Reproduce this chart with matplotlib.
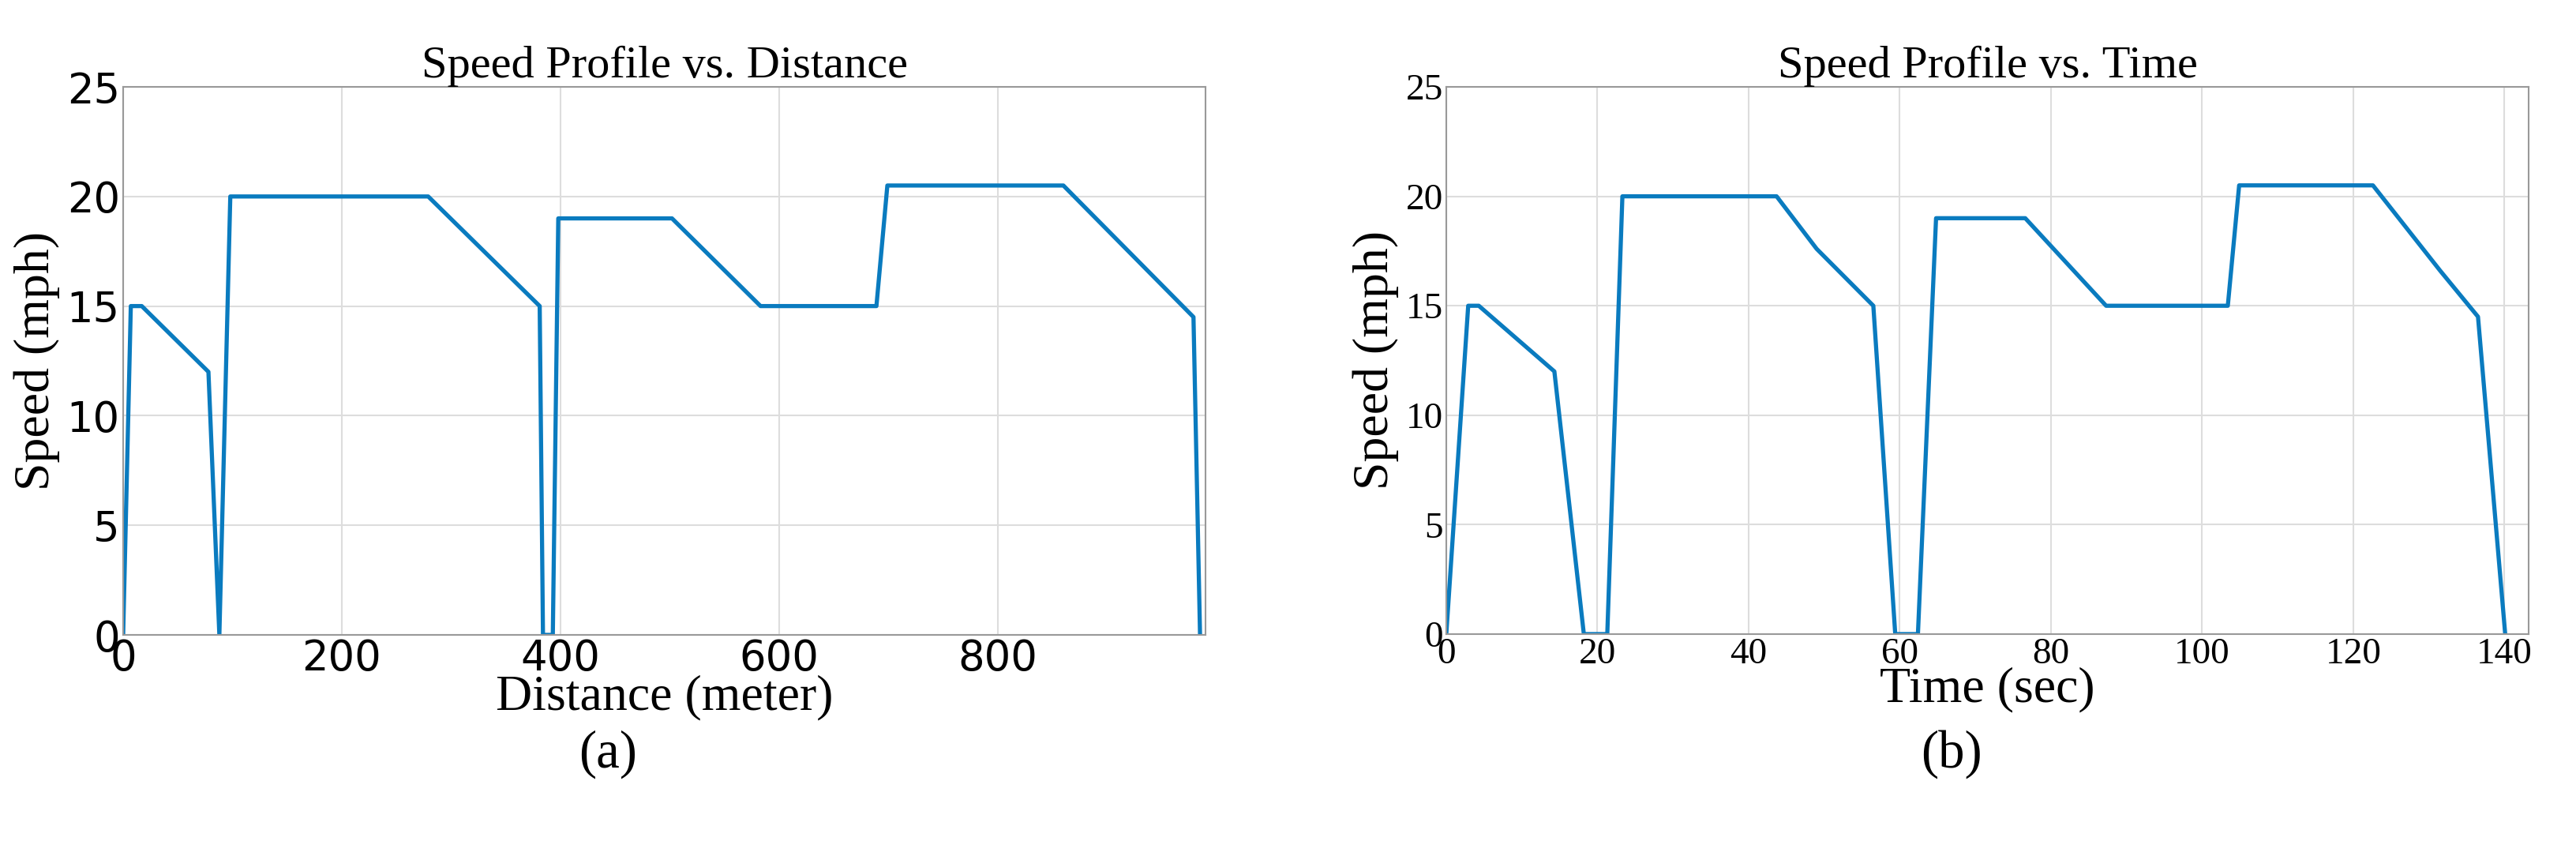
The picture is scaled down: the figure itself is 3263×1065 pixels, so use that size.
import matplotlib
matplotlib.use("Agg")
import matplotlib.pyplot as plt

dist_m = [0, 7, 17, 78, 88, 98, 279, 381, 384, 393, 398, 502, 583, 689, 699, 860, 979, 985]
dist_speed = [0, 15, 15, 12, 0, 20, 20, 15, 0, 0, 19, 19, 15, 15, 20.5, 20.5, 14.5, 0]
time_s = [0, 2.9, 4.3, 14.3, 18.2, 21.3, 23.3, 43.7, 49.0, 56.5, 59.4, 62.4, 64.8, 76.6, 87.3, 103.4, 104.9, 122.6, 131.5, 136.5, 140.1]
time_speed = [0, 15, 15, 12, 0, 0, 20, 20, 17.6, 15, 0, 0, 19, 19, 15, 15, 20.5, 20.5, 16.6, 14.5, 0]

W, H = 3263, 1065
fig = plt.figure(figsize=(W/100, H/100), dpi=100)
serif = "Liberation Serif"
color = "#0A7BBF"

def setup(ax, xlabel, title, tickfont, ticksize):
    ax.set_ylim(0, 25)
    ax.set_yticks([0, 5, 10, 15, 20, 25])
    ax.grid(True, color="#dddddd", linewidth=1.5)
    ax.set_axisbelow(True)
    for s in ax.spines.values():
        s.set_color("#999999"); s.set_linewidth(1.5)
    ax.tick_params(length=0, pad=3)
    for lab in ax.get_xticklabels() + ax.get_yticklabels():
        lab.set_fontfamily(tickfont); lab.set_fontsize(ticksize)
    ax.set_xlabel(xlabel, fontfamily=serif, fontsize=46, labelpad=-4)
    ax.set_ylabel("Speed (mph)", fontfamily=serif, fontsize=46, labelpad=6)
    ax.set_title(title, fontfamily=serif, fontsize=42, pad=4)

ax1 = fig.add_axes([156/W, 1-804/H, (1527-156)/W, (804-110)/H])
ax1.plot(dist_m, dist_speed, color=color, lw=3.8)
ax1.set_xlim(0, 990)
ax1.set_xticks([0, 200, 400, 600, 800])
setup(ax1, "Distance (meter)", "Speed Profile vs. Distance", "DejaVu Sans", 38)

ax2 = fig.add_axes([1832/W, 1-803/H, (3203-1832)/W, (803-110)/H])
ax2.plot(time_s, time_speed, color=color, lw=3.8)
ax2.set_xlim(0, 143.2)
ax2.set_xticks(range(0, 141, 20))
setup(ax2, "Time (sec)", "Speed Profile vs. Time", serif, 34)

fig.text(0.236, 1-955/H, "(a)", fontfamily=serif, fontsize=48, ha="center", va="center")
fig.text(0.7575, 1-955/H, "(b)", fontfamily=serif, fontsize=48, ha="center", va="center")
fig.savefig("out.png", dpi=100)
